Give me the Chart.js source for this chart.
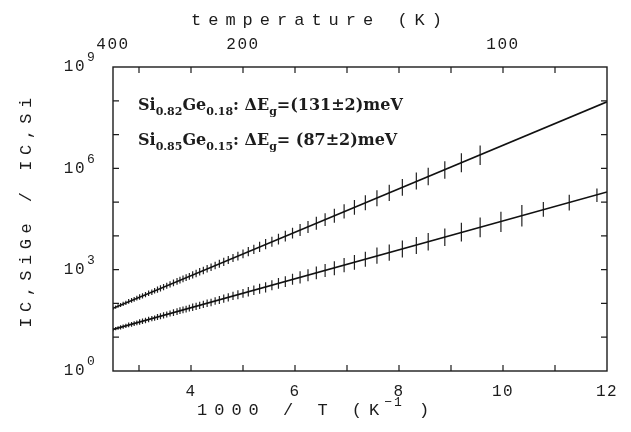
<!DOCTYPE html>
<html>
<head>
<meta charset="utf-8">
<script src="https://cdn.jsdelivr.net/npm/chart.js@4.4.1/dist/chart.umd.min.js"></script>
<style>
  html, body { margin: 0; padding: 0; background: #fff; }
  canvas { display: block; }
</style>
</head>
<body>
<canvas id="gapChart" width="631" height="432"></canvas>
<script>
// measurement temperatures (K), x axis is 1000 / T
const temperatures = [400, 392, 385, 378, 371, 364, 357, 350, 344, 338, 332, 326, 320, 314, 308, 303, 298, 293,
    288, 283, 278, 273, 268, 264, 260, 256, 252, 248, 244, 240, 236, 232, 228, 224, 220, 216, 212, 208, 204, 200,
    196, 192, 188, 184, 180, 176, 172, 168, 164, 160, 156, 152, 148, 144, 140, 136, 132, 128, 124, 120,
    116.8, 112.6, 108.7, 104.6, 100.4, 96.5, 92.8, 88.7, 84.7];

// I_C,SiGe / I_C,Si  for Si0.82Ge0.18 (stops at 104.6 K)
const ratioGe18 = [72, 78, 84, 90, 97, 104, 115, 123, 132, 143, 155, 168, 183, 200, 214, 237, 257, 280,
    305, 335, 367, 405, 449, 488, 531, 581, 637, 700, 772, 870, 948, 1060, 1180, 1330, 1500, 1700, 1930, 2210, 2500, 2940,
    3420, 3990, 4710, 5700, 6680, 8050, 9800, 12000, 14900, 18300, 23700, 30400, 39500, 53500, 70000, 95700, 1.30e5, 1.89e5, 2.74e5, 4.2e5,
    5.73e5, 8.9e5, 1.47e6, 2.45e6];

// I_C,SiGe / I_C,Si  for Si0.85Ge0.15
const ratioGe15 = [17, 17.9, 18.7, 19.6, 20.6, 21.7, 23.2, 24.1, 25.4, 26.7, 28.1, 29.7, 31.4, 33.3, 35.5, 36.8, 39.5, 41.8,
    44.3, 47.1, 50.1, 53.5, 57.2, 61.5, 64.0, 67.9, 72.2, 76.9, 82.0, 87.8, 94.0, 101, 107, 118, 127, 139, 151, 168, 181, 200,
    221, 245, 273, 300, 345, 391, 445, 520, 589, 684, 800, 946, 1100, 1355, 1648, 2028, 2600, 3192, 4093, 5200,
    6683, 9141, 12900, 17870, 26000, 39380, 61000, 96600, 1.60e5];

// half length of the error bars, in decades
const errorDecades = [0.05, 0.05, 0.05, 0.06, 0.06, 0.06, 0.07, 0.07, 0.07, 0.07, 0.08, 0.08, 0.08, 0.08, 0.08, 0.08, 0.09, 0.09,
    0.09, 0.09, 0.09, 0.10, 0.10, 0.10, 0.10, 0.10, 0.10, 0.11, 0.11, 0.11, 0.11, 0.11, 0.11, 0.11, 0.12, 0.12, 0.12, 0.12, 0.13, 0.13,
    0.14, 0.14, 0.15, 0.15, 0.15, 0.16, 0.16, 0.16, 0.18, 0.18, 0.19, 0.19, 0.21, 0.21, 0.22, 0.22, 0.24, 0.24, 0.25, 0.25,
    0.26, 0.26, 0.28, 0.29, 0.30, 0.32, 0.22, 0.23, 0.20];

// fitted lines
const fitInvT = [2.5, 12];
const fitGe18 = [72, 9.3e7];
const fitGe15 = [17, 2.0e5];

// axes
const bottomTicks = [3, 4, 5, 6, 7, 8, 9, 10, 11, 12];
const bottomLabels = [4, 6, 8, 10, 12];
const topTicks = [2.5, 3, 4, 5, 6, 7, 8, 9, 10, 11];
const topLabelsK = [400, 200, 100];
const yDecades = [0, 1, 2, 3, 4, 5, 6, 7, 8, 9];
const yLabelDecades = [0, 3, 6, 9];

const MONO = '"Liberation Mono", "DejaVu Sans Mono", monospace';
const SERIF = '"DejaVu Serif", "Liberation Serif", serif';
const INK = '#1c1c1c';

const annotations = [
    { x: 138, y: 110, parts: [['Si'], ['0.82', 1], ['Ge'], ['0.18', 1], [': \u0394E'], ['g', 1], ['=(131\u00b12)meV']] },
    { x: 138, y: 145, parts: [['Si'], ['0.85', 1], ['Ge'], ['0.15', 1], [': \u0394E'], ['g', 1], ['= (87\u00b12)meV']] }
];

function linePoints(xs, ys) {
    return xs.map((x, i) => ({ x: x, y: ys[i] }));
}

function errorBarPoints(ratios) {
    const pts = [];
    ratios.forEach((r, i) => {
        const x = 1000 / temperatures[i];
        const f = Math.pow(10, errorDecades[i]);
        pts.push({ x: x, y: r / f }, { x: x, y: r * f }, { x: x, y: null });
    });
    return pts;
}

const plotDecor = {
    id: 'plotDecor',
    beforeDraw(chart) {
        chart.ctx.letterSpacing = '1.5px';
    },
    afterDraw(chart) {
        const ctx = chart.ctx;
        const ca = chart.chartArea;
        const xs = chart.scales.x, xt = chart.scales.xTop, ys = chart.scales.y;

        ctx.save();
        ctx.strokeStyle = INK;
        ctx.lineWidth = 1.4;
        ctx.strokeRect(ca.left, ca.top, ca.right - ca.left, ca.bottom - ca.top);

        // inward tick marks
        ctx.lineWidth = 1.2;
        ctx.beginPath();
        xs.ticks.forEach(t => {
            const px = xs.getPixelForValue(t.value);
            if (px <= ca.left + 1 || px >= ca.right - 1) return;
            ctx.moveTo(px, ca.bottom); ctx.lineTo(px, ca.bottom - 6);
        });
        xt.ticks.forEach(t => {
            const px = xt.getPixelForValue(t.value);
            if (px <= ca.left + 1 || px >= ca.right - 1) return;
            ctx.moveTo(px, ca.top); ctx.lineTo(px, ca.top + 6);
        });
        ys.ticks.forEach(t => {
            const py = ys.getPixelForValue(t.value);
            if (py <= ca.top + 1 || py >= ca.bottom - 1) return;
            ctx.moveTo(ca.left, py); ctx.lineTo(ca.left + 6, py);
            ctx.moveTo(ca.right, py); ctx.lineTo(ca.right - 6, py);
        });
        ctx.stroke();

        ctx.fillStyle = INK;

        // y tick labels 10^n
        yLabelDecades.forEach(e => {
            const py = ys.getPixelForValue(Math.pow(10, e));
            ctx.letterSpacing = '1.5px';
            ctx.font = '16px ' + MONO;
            ctx.textAlign = 'right';
            ctx.textBaseline = 'middle';
            ctx.fillText('10', 86, py);
            ctx.font = '13px ' + MONO;
            ctx.textAlign = 'left';
            ctx.fillText(String(e), 87, py - 9);
        });

        // axis titles
        ctx.letterSpacing = '7px';
        ctx.font = '17px ' + MONO;
        ctx.textAlign = 'center';
        ctx.textBaseline = 'middle';
        ctx.fillText('temperature (K)', 320, 20);

        ctx.textAlign = 'left';
        let bx = 197;
        ctx.fillText('1000 / T (K', bx, 410);
        bx += ctx.measureText('1000 / T (K').width;
        ctx.letterSpacing = '2px';
        ctx.font = '13px ' + MONO;
        ctx.fillText('\u22121', bx - 2, 403);
        bx += ctx.measureText('\u22121').width;
        ctx.letterSpacing = '7px';
        ctx.font = '17px ' + MONO;
        ctx.fillText(' )', bx - 4, 410);

        ctx.save();
        ctx.translate(26, 210);
        ctx.rotate(-Math.PI / 2);
        ctx.letterSpacing = '5.5px';
        ctx.textAlign = 'center';
        ctx.fillText('IC,SiGe / IC,Si', 0, 0);
        ctx.restore();

        // band offset annotations
        ctx.letterSpacing = '0px';
        ctx.textAlign = 'left';
        ctx.textBaseline = 'alphabetic';
        annotations.forEach(a => {
            let x = a.x;
            a.parts.forEach(p => {
                const sub = p[1] === 1;
                ctx.font = 'bold ' + (sub ? '11px ' : '16px ') + SERIF;
                ctx.fillText(p[0], x, a.y + (sub ? 5 : 0));
                x += ctx.measureText(p[0]).width;
            });
        });
        ctx.restore();
        ctx.letterSpacing = '0px';
    }
};

const ctx = document.getElementById('gapChart').getContext('2d');
new Chart(ctx, {
    type: 'line',
    data: {
        datasets: [
            {
                label: 'fit Si0.82Ge0.18',
                data: linePoints(fitInvT, fitGe18),
                borderColor: '#111',
                borderWidth: 1.6,
                pointRadius: 0
            },
            {
                label: 'fit Si0.85Ge0.15',
                data: linePoints(fitInvT, fitGe15),
                borderColor: '#111',
                borderWidth: 1.6,
                pointRadius: 0
            },
            {
                label: 'Si0.82Ge0.18',
                data: errorBarPoints(ratioGe18),
                borderColor: '#222',
                borderWidth: 1.2,
                pointRadius: 0,
                spanGaps: false
            },
            {
                label: 'Si0.85Ge0.15',
                data: errorBarPoints(ratioGe15),
                borderColor: '#222',
                borderWidth: 1.2,
                pointRadius: 0,
                spanGaps: false
            }
        ]
    },
    options: {
        responsive: false,
        devicePixelRatio: 1,
        animation: false,
        layout: { padding: { left: 0, right: 24, top: 0, bottom: 0 } },
        plugins: {
            legend: { display: false },
            tooltip: { enabled: false }
        },
        scales: {
            x: {
                type: 'linear',
                position: 'bottom',
                min: 2.5,
                max: 12,
                afterBuildTicks: s => { s.ticks = bottomTicks.map(v => ({ value: v })); },
                afterFit: s => { s.height = 61; },
                grid: { display: false, drawTicks: false },
                border: { display: false },
                ticks: {
                    autoSkip: false,
                    maxRotation: 0,
                    padding: 11,
                    color: INK,
                    font: { family: MONO, size: 16 },
                    callback: v => bottomLabels.includes(v) ? String(v) : ''
                }
            },
            xTop: {
                type: 'linear',
                axis: 'x',
                position: 'top',
                min: 2.5,
                max: 12,
                afterBuildTicks: s => { s.ticks = topTicks.map(v => ({ value: v })); },
                afterFit: s => { s.height = 67; },
                grid: { display: false, drawTicks: false },
                border: { display: false },
                ticks: {
                    autoSkip: false,
                    maxRotation: 0,
                    padding: 13,
                    color: INK,
                    font: { family: MONO, size: 16 },
                    callback: v => {
                        const k = topLabelsK.find(t => Math.abs(1000 / t - v) < 1e-6);
                        return k ? String(k) : '';
                    }
                }
            },
            y: {
                type: 'logarithmic',
                position: 'left',
                min: 1,
                max: 1e9,
                afterBuildTicks: s => { s.ticks = yDecades.map(e => ({ value: Math.pow(10, e) })); },
                afterFit: s => { s.width = 113; },
                grid: { display: false, drawTicks: false },
                border: { display: false },
                ticks: { display: false }
            }
        }
    },
    plugins: [plotDecor]
});
</script>
</body>
</html>
